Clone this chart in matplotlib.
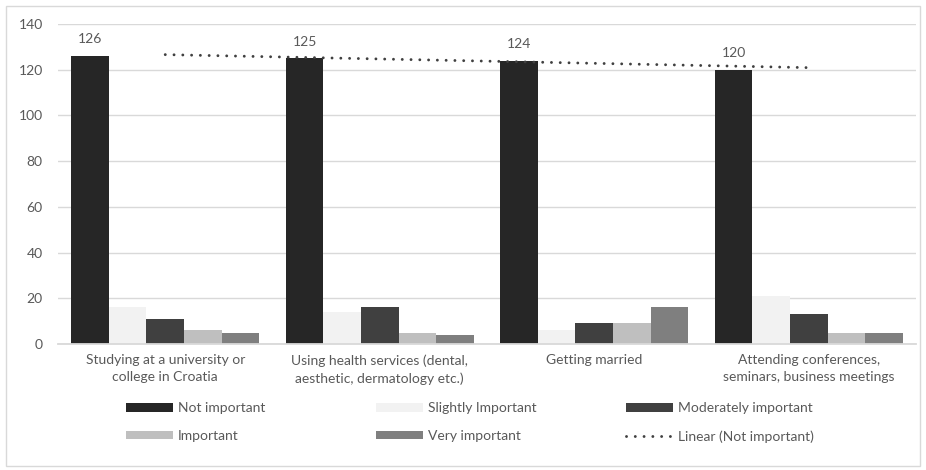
import numpy as np
import matplotlib
matplotlib.use("Agg")
import matplotlib.pyplot as plt
from matplotlib.patches import Patch, Rectangle
from matplotlib.lines import Line2D

plt.rcParams["font.family"] = ["Lato", "DejaVu Sans"]

# ---- data ----
categories = [
    "Studying at a university or\ncollege in Croatia",
    "Using health services (dental,\naesthetic, dermatology etc.)",
    "Getting married",
    "Attending conferences,\nseminars, business meetings",
]
series_names = ["Not important", "Slightly Important", "Moderately important",
                "Important", "Very important"]
not_important = [126, 125, 124, 120]
slightly_important = [16, 14, 6, 21]
moderately_important = [11, 16, 9, 13]
important = [6, 5, 9, 5]
very_important = [5, 4, 16, 5]
series_values = [not_important, slightly_important, moderately_important,
                 important, very_important]
series_colors = ["#262626", "#f2f2f2", "#404040", "#bfbfbf", "#7f7f7f"]

text_color = "#595959"
grid_color = "#d9d9d9"

W, H = 926, 470
fig = plt.figure(figsize=(W / 100, H / 100), dpi=100)
ax = fig.add_axes([58 / W, 1 - 344 / H, (916 - 58) / W, (344 - 24) / H])

x = np.arange(len(categories))
bar_w = 0.175
for i, (vals, col) in enumerate(zip(series_values, series_colors)):
    ax.bar(x + (i - 2) * bar_w, vals, width=bar_w, color=col, zorder=2)

# value labels on the "Not important" bars
for xi, v in zip(x, not_important):
    ax.annotate(str(v), (xi - 2 * bar_w, v), xytext=(0, 12),
                textcoords="offset points", ha="center", va="center",
                fontsize=10, color=text_color)

# linear trend of "Not important"
k, b = np.polyfit(x, not_important, 1)
dot_style = (0, (0.01, 3.0))
ax.plot(x, k * x + b, color="#404040", lw=2.1, linestyle=dot_style,
        dash_capstyle="round", zorder=3)

ax.set_xlim(-0.5, 3.5)
ax.set_ylim(0, 140)
ax.set_yticks(range(0, 141, 20))
ax.set_xticks(x)
ax.set_xticklabels(categories, linespacing=1.5)
ax.tick_params(axis="both", length=0, labelsize=10, labelcolor=text_color)
ax.tick_params(axis="x", pad=7.5)
ax.tick_params(axis="y", pad=11)
ax.grid(axis="y", color=grid_color, lw=1, zorder=0)
for s in ["top", "right", "left"]:
    ax.spines[s].set_visible(False)
ax.spines["bottom"].set_color(grid_color)
ax.spines["bottom"].set_linewidth(1.3)

# legend: three columns, two rows
patches = [Patch(facecolor=c, edgecolor="none") for c in series_colors]
trend_handle = Line2D([], [], color="#404040", lw=2.1, linestyle=dot_style,
                      dash_capstyle="round")
columns = [
    ([patches[0], patches[3]], [series_names[0], series_names[3]]),
    ([patches[1], patches[4]], [series_names[1], series_names[4]]),
    ([patches[2], trend_handle], [series_names[2], "Linear (Not important)"]),
]
for j, (hs, ls) in enumerate(columns):
    leg = fig.legend(hs, ls, loc="upper left",
                     bbox_to_anchor=((126 + 250 * j) / W, 1 - 402 / H),
                     frameon=False, borderpad=0, borderaxespad=0,
                     handlelength=3.4, handleheight=0.6, handletextpad=0.35,
                     labelspacing=1.15, fontsize=10, labelcolor=text_color)

# light border around the whole chart
fig.patches.append(Rectangle((6 / W, 4 / H), (W - 12) / W, (H - 10) / H,
                             transform=fig.transFigure, fill=False,
                             edgecolor=grid_color, lw=1))

fig.savefig("out.png", dpi=100)
